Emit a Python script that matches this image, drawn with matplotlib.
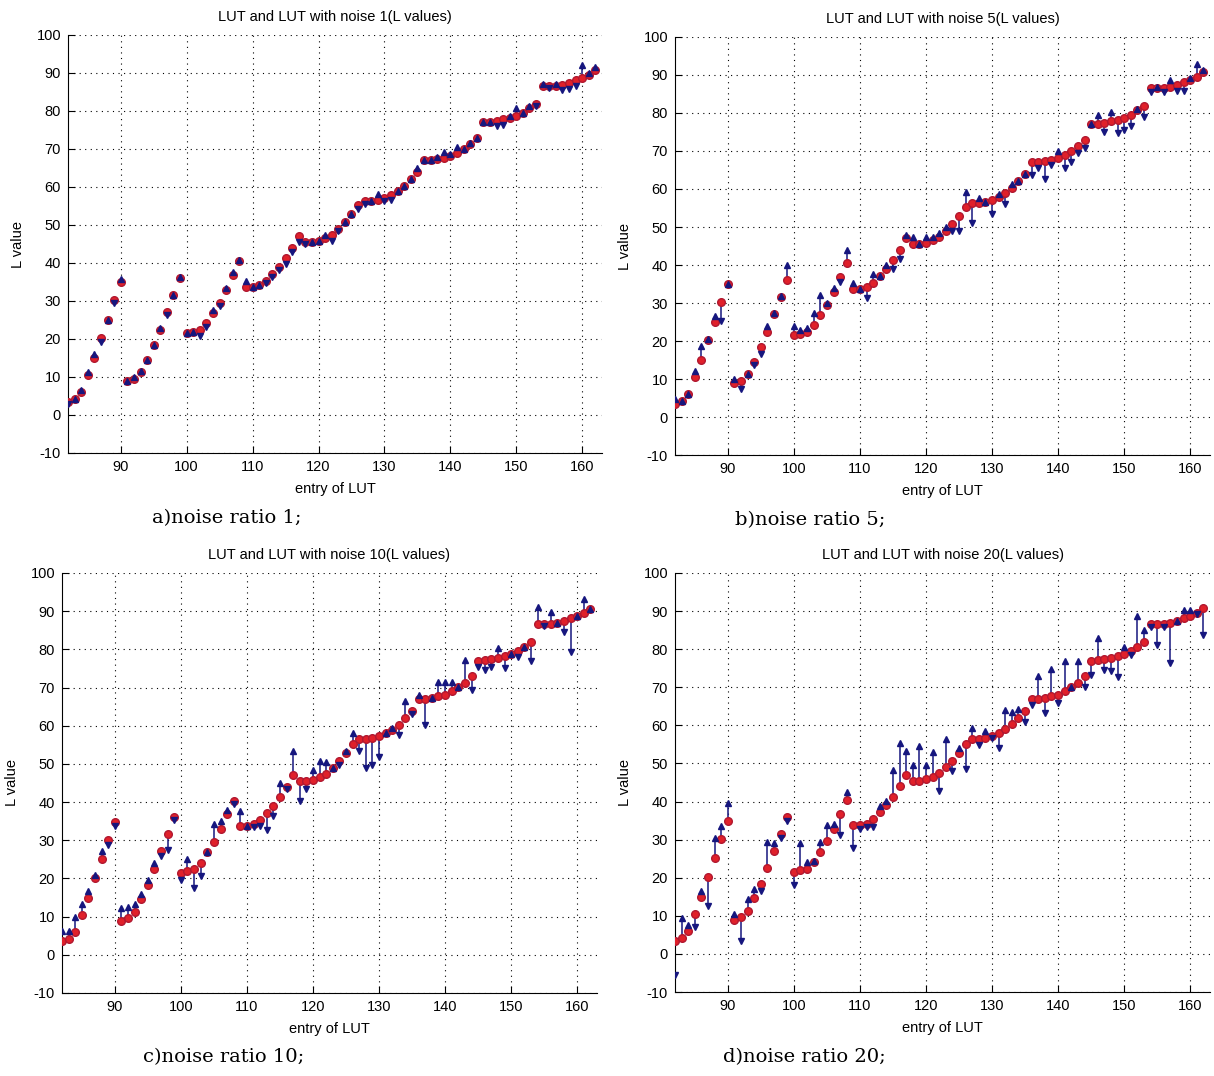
import numpy as np
import matplotlib
matplotlib.use("Agg")
import matplotlib.pyplot as plt

# ---------------------------------------------------------------
# Data: LUT entries 82..162, original L values
# and the noisy L values for each noise ratio
# ---------------------------------------------------------------
entry = list(range(82, 163))

lut = [3.5, 4.2, 6.0, 10.4, 15.0, 20.2, 25.1, 30.2, 34.9,
       8.9, 9.6, 11.3, 14.6, 18.4, 22.5, 27.1, 31.6, 36.0,
       21.5, 21.9, 22.4, 24.1, 26.8, 29.6, 32.9, 36.8, 40.4,
       33.8, 33.8, 34.2, 35.3, 37.2, 39.0, 41.3, 44.0, 47.0,
       45.5, 45.5, 45.9, 46.5, 47.4, 49.0, 50.7, 52.8, 55.2,
       56.4, 56.4, 56.7, 57.2, 58.0, 59.0, 60.3, 62.0, 63.9,
       67.0, 67.0, 67.3, 67.7, 68.1, 69.0, 70.1, 71.2, 73.0,
       77.0, 77.1, 77.5, 77.8, 78.2, 78.7, 79.6, 80.7, 81.8,
       86.7, 86.6, 86.6, 86.9, 87.4, 88.2, 88.8, 89.6, 90.7]

noisy_1 = [3.0, 4.2, 6.5, 11.2, 16.0, 19.2, 25.1, 29.4, 35.7,
           8.9, 10.1, 11.5, 14.6, 18.4, 23.0, 26.3, 31.6, 36.2,
           21.5, 21.9, 20.9, 23.1, 27.6, 28.6, 33.4, 37.6, 40.9,
           35.3, 33.8, 34.2, 34.8, 36.4, 38.2, 39.8, 43.0, 45.5,
           45.0, 45.5, 45.9, 47.5, 45.9, 48.5, 50.7, 52.8, 54.2,
           55.4, 56.4, 58.2, 56.2, 56.5, 59.0, 60.3, 62.0, 64.9,
           67.0, 67.0, 67.8, 69.2, 68.6, 70.5, 70.1, 71.7, 73.0,
           77.0, 77.1, 76.0, 76.3, 78.7, 80.7, 79.6, 81.2, 81.3,
           87.2, 86.1, 87.1, 85.4, 85.9, 86.7, 92.0, 90.1, 91.5]

noisy_5 = [4.8, 4.2, 6.0, 12.2, 18.8, 20.5, 26.6, 25.3, 34.9,
           10.0, 7.3, 11.3, 13.8, 16.5, 24.0, 27.5, 31.8, 40.0,
           24.0, 23.0, 23.3, 27.5, 32.0, 30.0, 34.0, 35.6, 44.0,
           35.2, 33.8, 31.2, 37.6, 37.2, 39.9, 38.9, 41.7, 47.8,
           47.3, 45.5, 47.3, 47.3, 48.5, 50.0, 48.9, 49.0, 59.1,
           51.0, 57.6, 56.7, 53.3, 58.8, 56.0, 61.3, 62.0, 63.9,
           63.8, 65.5, 62.6, 66.4, 70.0, 65.5, 67.2, 69.4, 70.7,
           77.0, 79.5, 74.9, 80.3, 74.7, 75.5, 76.7, 81.0, 79.0,
           85.6, 86.9, 85.6, 88.6, 85.8, 85.8, 89.2, 93.0, 91.3]

noisy_10 = [6.3, 6.3, 9.8, 13.2, 16.7, 21.0, 27.2, 28.8, 33.8,
            12.3, 12.5, 13.2, 15.8, 19.7, 24.1, 25.9, 27.4, 35.3,
            19.5, 25.0, 17.5, 20.6, 26.8, 34.2, 35.1, 37.9, 39.5,
            37.7, 33.8, 33.5, 33.8, 32.6, 36.4, 44.9, 43.4, 53.5,
            40.4, 43.4, 48.4, 50.7, 50.4, 49.0, 49.8, 53.3, 58.1,
            53.3, 48.9, 49.6, 51.9, 58.0, 59.5, 57.7, 66.5, 63.2,
            68.0, 60.1, 67.3, 71.5, 71.5, 71.5, 70.1, 77.2, 69.3,
            75.4, 74.6, 75.4, 80.3, 75.0, 78.7, 78.1, 80.7, 77.0,
            91.2, 86.0, 89.9, 86.9, 84.6, 79.4, 88.8, 93.2, 90.7]

noisy_20 = [-5.5, 9.5, 7.5, 7.0, 16.5, 12.5, 30.5, 33.5, 39.5,
            10.5, 3.5, 14.5, 17.0, 16.5, 29.5, 29.0, 30.5, 35.0,
            18.0, 29.0, 24.0, 24.3, 29.5, 33.9, 34.0, 31.3, 42.6,
            27.8, 32.8, 33.2, 33.4, 38.7, 40.2, 48.3, 55.3, 53.3,
            49.5, 54.7, 49.5, 53.0, 42.8, 56.5, 48.0, 54.0, 48.6,
            59.3, 54.9, 58.6, 56.7, 54.0, 64.1, 63.5, 64.3, 61.0,
            65.4, 72.9, 63.2, 74.9, 65.8, 77.0, 70.1, 77.0, 70.2,
            73.3, 82.9, 74.6, 74.3, 72.6, 80.5, 78.5, 88.6, 85.1,
            85.7, 81.2, 85.7, 76.4, 87.4, 90.4, 90.4, 89.2, 83.6]

noise_ratios = [1, 5, 10, 20]
captions = ["a)noise ratio 1;", "b)noise ratio 5;",
            "c)noise ratio 10;", "d)noise ratio 20;"]

plt.rcParams["font.family"] = ["Liberation Sans", "DejaVu Sans"]
plt.rcParams["axes.unicode_minus"] = False

W, H = 1214, 1076
fig = plt.figure(figsize=(W / 100, H / 100), dpi=100)

# axes boxes in pixels: left, top, right, bottom
boxes = [(68, 35, 602, 453), (675, 37, 1210, 455),
         (62, 573, 597, 993), (675, 573, 1210, 992)]
caption_pos = [(152, 518), (735, 520), (143, 1057), (723, 1057)]

x = np.array(entry)
base = np.array(lut)
blue = "#16167e"
red = "#e0202a"

for i, noisy in enumerate([noisy_1, noisy_5, noisy_10, noisy_20]):
    l, t, r, b = boxes[i]
    ax = fig.add_axes([l / W, 1 - b / H, (r - l) / W, (b - t) / H])
    y = np.array(noisy)

    ax.vlines(x, base, y, color=blue, linewidth=1.1, zorder=2)
    ax.plot(x, base, "o", color=red, markeredgecolor="#b01830",
            markersize=5.5, zorder=3)
    up = y >= base
    ax.plot(x[up], y[up], "^", color=blue, markersize=4.5, zorder=4)
    ax.plot(x[~up], y[~up], "v", color=blue, markersize=4.5, zorder=4)

    ax.set_xlim(82, 163)
    ax.set_ylim(-10, 100)
    ax.set_xticks(range(90, 161, 10))
    ax.set_yticks(range(-10, 101, 10))
    ax.grid(True, color="black", linestyle=(0, (1, 4)), linewidth=0.8)
    ax.tick_params(direction="in", length=5, labelsize=10.5, pad=5,
                   top=False, right=False)
    for side in ("top", "right"):
        ax.spines[side].set_visible(False)
    ax.set_title(f"LUT and LUT with noise {noise_ratios[i]}(L values)",
                 fontsize=10.5, pad=10)
    ax.set_xlabel("entry of LUT", fontsize=10.5, labelpad=6)
    ax.set_ylabel("L value", fontsize=10.5, labelpad=8)

    cx, cy = caption_pos[i]
    fig.text(cx / W, 1 - cy / H, captions[i], fontsize=14,
             family=["DejaVu Serif"], va="center", ha="left")

fig.savefig("out.png", dpi=100)
